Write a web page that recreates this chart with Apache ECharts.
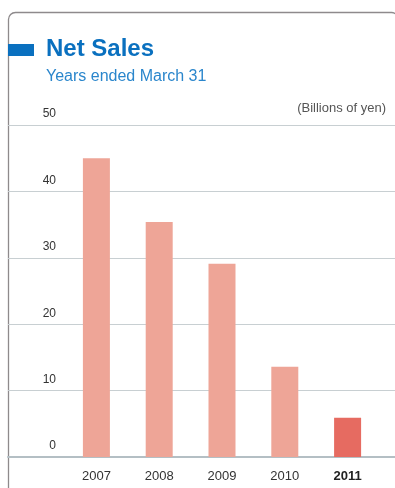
<!DOCTYPE html>
<html>
<head>
<meta charset="utf-8">
<script src="https://cdn.jsdelivr.net/npm/echarts@6/dist/echarts.min.js"></script>
<style>
  html, body { margin: 0; padding: 0; background: #fff; }
  #chart { width: 395px; height: 488px; }
</style>
</head>
<body>
<div id="chart"></div>
<script>
// Net sales by fiscal year (billions of yen)
const years = ['2007', '2008', '2009', '2010', '2011'];
const netSales = [45.0, 35.4, 29.1, 13.6, 5.9];
const yTicks = { min: 0, max: 50, interval: 10 };
const currentYear = '2011';

const FONT = '"Liberation Sans", Arial, sans-serif';
const BAR = '#EEA597';
const BAR_CURRENT = '#E66B61';

const chart = echarts.init(document.getElementById('chart'), null, { renderer: 'canvas' });

const grids = [
  // full-width panel grid carries the horizontal rules and the baseline
  { left: 8, right: 0, top: 125, bottom: 31 },
  // bar grid
  { left: 65, right: 16, top: 125, bottom: 31 }
];

chart.setOption({
  animation: false,
  grid: grids,
  xAxis: [
    {
      gridIndex: 0, type: 'category', data: [''],
      axisLine: { show: true, lineStyle: { color: '#B4BFC4', width: 2 } },
      axisTick: { show: false }, axisLabel: { show: false }, splitLine: { show: false }
    },
    {
      gridIndex: 1, type: 'category', data: years,
      axisLine: { show: false }, axisTick: { show: false },
      axisLabel: {
        margin: 13,
        fontFamily: FONT, fontSize: 13, color: '#333',
        formatter: v => v === currentYear ? '{b|' + v + '}' : v,
        rich: { b: { fontFamily: FONT, fontSize: 13, fontWeight: 'bold', color: '#222' } }
      }
    }
  ],
  yAxis: [
    {
      gridIndex: 0, type: 'value', min: yTicks.min, max: yTicks.max, interval: yTicks.interval,
      axisLine: { show: false }, axisTick: { show: false }, axisLabel: { show: false },
      splitLine: { show: true, lineStyle: { color: '#C8CFD2', width: 1 } }
    },
    {
      gridIndex: 1, type: 'value', min: yTicks.min, max: yTicks.max, interval: yTicks.interval,
      axisLine: { show: false }, axisTick: { show: false }, splitLine: { show: false },
      axisLabel: {
        margin: 9, fontFamily: FONT, fontSize: 12, color: '#333',
        verticalAlign: 'bottom', padding: [0, 0, 5, 0]
      }
    }
  ],
  series: [{
    type: 'bar',
    xAxisIndex: 1, yAxisIndex: 1,
    barWidth: 27,
    data: netSales.map((v, i) => ({
      value: v,
      itemStyle: { color: years[i] === currentYear ? BAR_CURRENT : BAR }
    }))
  }],
  graphic: [
    {
      type: 'rect', silent: true, z: -1,
      shape: { x: 8.5, y: 12.5, width: 390, height: 500, r: 7 },
      style: { fill: 'none', stroke: '#8E8A8C', lineWidth: 1.3 }
    },
    {
      type: 'rect', silent: true,
      shape: { x: 8, y: 44, width: 26, height: 12 },
      style: { fill: '#0A70BF' }
    },
    {
      type: 'text', silent: true, left: 46, top: 37,
      style: { text: 'Net Sales', fontFamily: FONT, fontSize: 24, fontWeight: 'bold', fill: '#0A70BF' }
    },
    {
      type: 'text', silent: true, left: 46, top: 69,
      style: { text: 'Years ended March 31', fontFamily: FONT, fontSize: 16, fill: '#2A86CC' }
    },
    {
      type: 'text', silent: true, right: 9, top: 102,
      style: { text: '(Billions of yen)', fontFamily: FONT, fontSize: 13, fill: '#555' }
    }
  ]
});
</script>
</body>
</html>
